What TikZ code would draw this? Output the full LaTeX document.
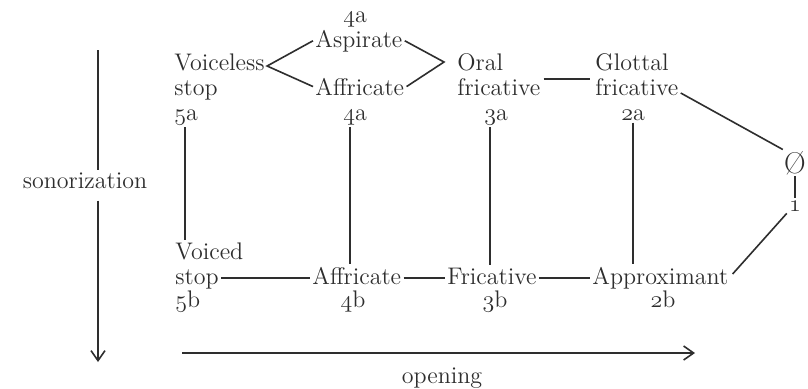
\documentclass[tikz,border=0pt]{standalone}
\usetikzlibrary{arrows.meta,calc}
\definecolor{ink}{HTML}{2E2E2E}
\newcommand\osf[1]{{\usefont{OML}{cmm}{m}{it}#1}}
\begin{document}
\begin{tikzpicture}[x=0.5pt,y=-0.5pt,
  every node/.style={inner sep=1pt, font=\fontsize{12}{12.5}\selectfont, text=ink},
  lab/.style={anchor=base west},
  num/.style={anchor=base},
  edge/.style={draw=ink, line width=0.8pt},
  axis/.style={draw=ink, line width=0.8pt, -{Straight Barb[length=5pt,width=7pt]}}]
\fill[white] (0,0) rectangle (808,388);
\useasboundingbox (0,0) rectangle (808,388);
% top group
\node[num] (t4a) at (355,22) {\osf{4}a};
\node[lab] (asp) at (313,47) {Aspirate};
\node[lab] (vl) at (172,70) {Voiceless};
\node[lab] (vstop) at (172,95) {stop};
\node[lab] (n5a) at (172,120) {\osf{5}a};
\node[lab] (aff1) at (313,95) {Affricate};
\node[num] (n4a) at (355,120) {\osf{4}a};
\node[lab] (oral) at (455,70) {Oral};
\node[lab] (ofric) at (455,95) {fricative};
\node[num] (n3a) at (496,120) {\osf{3}a};
\node[lab] (glot) at (593,70) {Glottal};
\node[lab] (gfric) at (593,95) {fricative};
\node[num] (n2a) at (633,120) {\osf{2}a};
\node[num, font=\fontsize{15}{15}\selectfont, inner sep=0.5pt] (empty) at (795,173) {\O};
\node[num] (one) at (795,211) {\osf{1}};
% bottom group
\node[lab] (voiced) at (173,259) {Voiced};
\node[lab] (bstop) at (173,284) {stop};
\node[lab] (n5b) at (173,307) {\osf{5}b};
\node[lab] (aff2) at (310,284) {Affricate};
\node[num] (n4b) at (353,307) {\osf{4}b};
\node[lab] (fric) at (445,284) {Fricative};
\node[num] (n3b) at (495,307) {\osf{3}b};
\node[lab] (appr) at (590,284) {Approximant};
\node[num] (n2b) at (663,307) {\osf{2}b};
% axes labels
\node[num] (son) at (85,188) {sonorization};
\node[num] (open) at (442,383) {opening};
\coordinate (sontop) at (98,50);
\coordinate (sonbot) at (98,362);
\coordinate (opl) at (182,353);
\coordinate (opr) at (695,353);
% junctions
\coordinate (jl) at ($(vl.base east)+(0,-4)$);
\coordinate (jr) at ($(oral.base west)+(-11,-8)$);
% diamond
\draw[edge] (asp.west) -- (jl) -- (aff1.west);
\draw[edge] (asp.east) -- (jr) -- (aff1.east);
% top horizontal
\draw[edge] ($(ofric.base east)+(1,-16)$) -- ($(gfric.base west)+(-3,-16)$);
% to null
\draw[edge] ($(gfric.base east)+(0,-2)$) -- (empty.north west);
\draw[edge] (empty.south) -- (one.north);
\draw[edge] ($(appr.base east)+(2,-10)$) -- (one.south west);
% verticals
\coordinate (v5) at ($(n5a.south)+(-1,0)$);
\coordinate (v4) at ($(n4a.south)+(-5,0)$);
\coordinate (v3) at ($(n3a.south)+(-6,0)$);
\draw[edge] (v5) -- (v5 |- voiced.north);
\draw[edge] (v4) -- (v4 |- aff2.north);
\draw[edge] (v3) -- (v3 |- fric.north);
\draw[edge] (n2a.south) -- (n2a.south |- appr.north);
% bottom horizontal
\draw[edge] ($(bstop.base east)+(0,-6)$) -- ($(aff2.base west)+(0,-6)$);
\draw[edge] ($(aff2.base east)+(0,-6)$) -- ($(fric.base west)+(0,-6)$);
\draw[edge] ($(fric.base east)+(0,-6)$) -- ($(appr.base west)+(0,-6)$);
% axes
\draw[edge] (sontop) -- (sontop |- son.north);
\draw[axis] ([yshift=-5pt]sontop |- son.south) -- (sonbot);
\draw[axis] (opl) -- (opr);
\end{tikzpicture}
\end{document}
